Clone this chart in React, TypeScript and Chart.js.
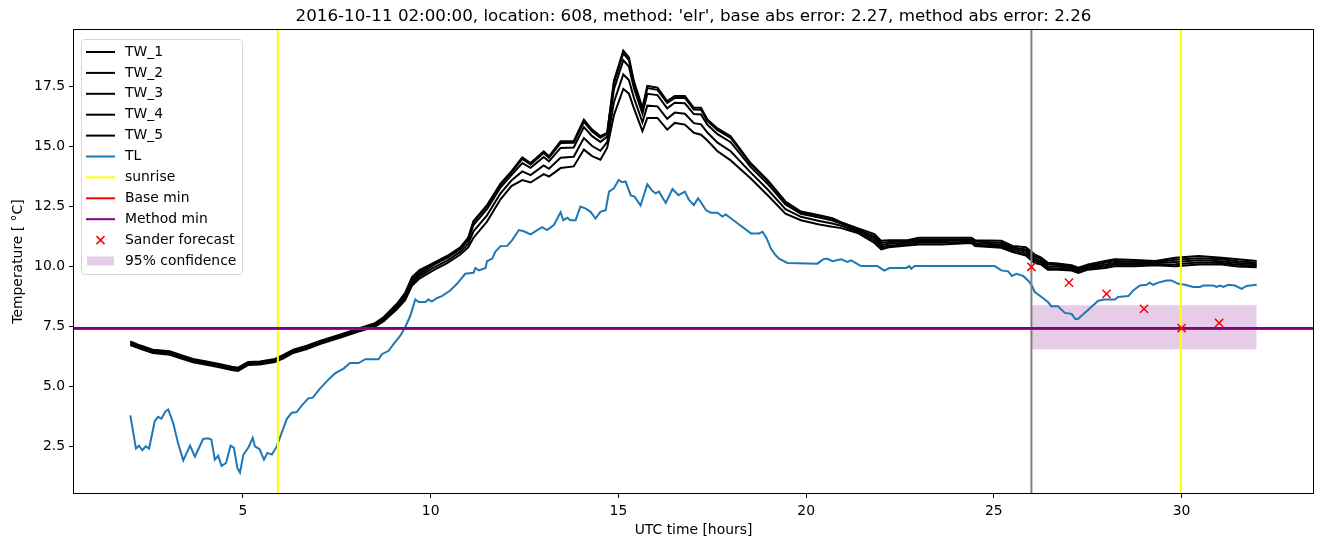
import React, { useEffect, useRef } from "react";
import { Chart, registerables } from "chart.js";

Chart.register(...registerables);

const FONT = "'DejaVu Sans', 'Liberation Sans', sans-serif";

const titleText =
  "2016-10-11 02:00:00, location: 608, method: 'elr', base abs error: 2.27, method abs error: 2.26";
const xLabel = "UTC time [hours]";
const yLabel = "Temperature [ °C]";

const xTicks = [5, 10, 15, 20, 25, 30];
const yTicks = [2.5, 5.0, 7.5, 10.0, 12.5, 15.0, 17.5];
const xRange = [0.5, 33.5];
const yRange = [0.57, 19.85];

// shared time axis for the TW series (hours)
const twTimes = [
  2.0, 2.25, 2.6, 3.05, 3.4, 3.67, 4.03, 4.4, 4.7, 4.87,
  5.14, 5.45, 5.85, 6.08, 6.34, 6.7, 7.05, 7.6, 8.1, 8.5,
  8.75, 9.1, 9.32, 9.5, 9.7, 10.08, 10.45, 10.79, 11.0, 11.14,
  11.5, 11.86, 12.15, 12.44, 12.66, 13.01, 13.15, 13.46, 13.81, 14.08,
  14.3, 14.52, 14.7, 14.88, 15.13, 15.28, 15.41, 15.64, 15.77, 16.04,
  16.3, 16.5, 16.77, 17.01, 17.2, 17.37, 17.64, 17.99, 18.52, 18.97,
  19.45, 19.86, 20.35, 20.7, 20.93, 21.37, 21.82, 22.0, 22.2, 22.7,
  23.0, 23.6, 24.4, 24.5, 25.2, 25.5, 25.85, 26.08, 26.26, 26.44,
  26.7, 27.07, 27.25, 27.51, 27.96, 28.22, 28.76, 29.3, 29.83, 30.45, 31.07, 31.5, 32.0,
];

const tw1 = [
  6.88, 6.72, 6.54, 6.47, 6.29, 6.15, 6.05, 5.93, 5.83, 5.79,
  6.03, 6.05, 6.15, 6.32, 6.54, 6.70, 6.90, 7.17, 7.43, 7.63,
  7.90, 8.45, 8.90, 9.55, 9.85, 10.15, 10.45, 10.80, 11.20, 11.90,
  12.56, 13.45, 13.96, 14.55, 14.31, 14.80, 14.59, 15.22, 15.22, 16.12,
  15.70, 15.43, 15.57, 17.73, 18.99, 18.71, 17.73, 16.61, 17.52, 17.45,
  16.89, 17.10, 17.10, 16.61, 16.61, 16.12, 15.75, 15.43, 14.31, 13.61,
  12.71, 12.29, 12.14, 12.01, 11.85, 11.60, 11.35, 11.07, 11.10, 11.10,
  11.20, 11.20, 11.20, 11.10, 11.07, 10.86, 10.80, 10.51, 10.37, 10.16,
  10.13, 10.05, 9.95, 10.09, 10.23, 10.30, 10.27, 10.23, 10.37, 10.44, 10.37, 10.30, 10.23,
];
const tw2 = [
  6.84, 6.69, 6.51, 6.44, 6.26, 6.12, 6.02, 5.90, 5.80, 5.76,
  6.00, 6.02, 6.12, 6.29, 6.51, 6.67, 6.87, 7.14, 7.40, 7.59,
  7.85, 8.39, 8.82, 9.46, 9.76, 10.13, 10.43, 10.78, 11.17, 11.85,
  12.51, 13.40, 13.92, 14.48, 14.25, 14.73, 14.53, 15.14, 15.15, 16.03,
  15.62, 15.36, 15.53, 17.63, 18.88, 18.60, 17.65, 16.54, 17.43, 17.36,
  16.81, 17.02, 17.02, 16.54, 16.53, 16.06, 15.68, 15.36, 14.27, 13.57,
  12.67, 12.26, 12.11, 11.99, 11.83, 11.55, 11.26, 10.98, 11.02, 11.04,
  11.13, 11.13, 11.14, 11.04, 10.99, 10.79, 10.71, 10.42, 10.30, 10.09,
  10.06, 9.99, 9.89, 10.03, 10.16, 10.23, 10.20, 10.18, 10.28, 10.35, 10.30, 10.22, 10.16,
];
const tw3 = [
  6.80, 6.65, 6.47, 6.40, 6.22, 6.08, 5.98, 5.86, 5.76, 5.72,
  5.96, 5.98, 6.08, 6.25, 6.47, 6.63, 6.83, 7.10, 7.36, 7.55,
  7.81, 8.33, 8.75, 9.37, 9.67, 10.07, 10.37, 10.72, 11.10, 11.73,
  12.39, 13.29, 13.81, 14.31, 14.11, 14.56, 14.38, 14.94, 14.96, 15.81,
  15.43, 15.19, 15.41, 17.37, 18.59, 18.33, 17.45, 16.37, 17.19, 17.14,
  16.59, 16.82, 16.80, 16.35, 16.33, 15.90, 15.51, 15.18, 14.15, 13.45,
  12.58, 12.20, 12.04, 11.92, 11.79, 11.50, 11.17, 10.89, 10.95, 10.99,
  11.06, 11.06, 11.09, 10.97, 10.92, 10.73, 10.63, 10.33, 10.22, 10.01,
  10.00, 9.94, 9.84, 9.98, 10.08, 10.15, 10.14, 10.14, 10.19, 10.26, 10.22, 10.15, 10.10,
];
const tw4 = [
  6.77, 6.62, 6.44, 6.37, 6.19, 6.05, 5.95, 5.83, 5.73, 5.69,
  5.93, 5.95, 6.05, 6.22, 6.44, 6.60, 6.80, 7.07, 7.33, 7.52,
  7.76, 8.28, 8.68, 9.29, 9.59, 9.96, 10.26, 10.61, 10.95, 11.47,
  12.13, 13.05, 13.58, 13.96, 13.81, 14.21, 14.07, 14.53, 14.57, 15.35,
  15.02, 14.82, 15.18, 16.84, 18.00, 17.77, 17.04, 16.01, 16.70, 16.67,
  16.15, 16.41, 16.36, 15.97, 15.92, 15.58, 15.16, 14.80, 13.92, 13.22,
  12.39, 12.07, 11.90, 11.79, 11.70, 11.45, 11.07, 10.80, 10.87, 10.93,
  10.99, 10.99, 11.03, 10.91, 10.85, 10.66, 10.54, 10.24, 10.15, 9.94,
  9.93, 9.88, 9.78, 9.92, 10.01, 10.08, 10.07, 10.09, 10.10, 10.17, 10.15, 10.07, 10.03,
];
const tw5 = [
  6.73, 6.58, 6.40, 6.33, 6.15, 6.01, 5.91, 5.79, 5.69, 5.65,
  5.90, 5.92, 6.02, 6.18, 6.40, 6.56, 6.77, 7.04, 7.30, 7.48,
  7.72, 8.22, 8.60, 9.20, 9.50, 9.85, 10.15, 10.50, 10.80, 11.20,
  11.87, 12.80, 13.35, 13.60, 13.50, 13.85, 13.75, 14.10, 14.17, 14.87,
  14.60, 14.45, 14.94, 16.30, 17.40, 17.20, 16.61, 15.64, 16.19, 16.19,
  15.70, 15.98, 15.91, 15.57, 15.49, 15.25, 14.80, 14.42, 13.68, 12.98,
  12.20, 11.93, 11.75, 11.66, 11.60, 11.40, 10.98, 10.71, 10.80, 10.88,
  10.92, 10.92, 10.98, 10.85, 10.78, 10.60, 10.46, 10.15, 10.08, 9.87,
  9.87, 9.83, 9.73, 9.87, 9.94, 10.01, 10.01, 10.05, 10.01, 10.08, 10.08, 10.00, 9.97,
];

const tlTimes = [
  2.0, 2.15, 2.23, 2.32, 2.41, 2.5, 2.65, 2.74, 2.83, 2.94,
  3.01, 3.14, 3.27, 3.41, 3.59, 3.72, 3.94, 4.07, 4.16, 4.25,
  4.34, 4.43, 4.55, 4.67, 4.76, 4.85, 4.92, 5.01, 5.14, 5.26,
  5.32, 5.44, 5.56, 5.65, 5.77, 5.9, 6.03, 6.17, 6.3, 6.43,
  6.57, 6.74, 6.86, 7.05, 7.25, 7.45, 7.68, 7.85, 8.08, 8.26,
  8.61, 8.7, 8.88, 9.01, 9.19, 9.32, 9.46, 9.59, 9.68, 9.86,
  9.94, 10.03, 10.17, 10.3, 10.52, 10.7, 10.92, 11.14, 11.19, 11.28,
  11.46, 11.5, 11.64, 11.72, 11.86, 12.04, 12.17, 12.35, 12.48, 12.66,
  12.84, 12.97, 13.1, 13.28, 13.46, 13.53, 13.64, 13.72, 13.86, 13.99,
  14.12, 14.26, 14.39, 14.52, 14.66, 14.75, 14.88, 15.01, 15.1, 15.19,
  15.33, 15.43, 15.59, 15.77, 15.9, 15.99, 16.08, 16.26, 16.44, 16.6,
  16.77, 16.88, 17.01, 17.12, 17.19, 17.33, 17.46, 17.64, 17.77, 17.86,
  18.17, 18.53, 18.75, 18.84, 18.95, 19.06, 19.19, 19.28, 19.5, 20.3,
  20.45, 20.55, 20.7, 20.93, 21.1, 21.2, 21.46, 21.9, 22.08, 22.22,
  22.66, 22.75, 22.8, 22.89, 25.02, 25.2, 25.38, 25.48, 25.6, 25.78,
  25.91, 26.0, 26.09, 26.27, 26.44, 26.53, 26.71, 26.89, 27.07, 27.17,
  27.24, 27.78, 27.95, 28.22, 28.31, 28.58, 28.71, 28.89, 29.07, 29.15,
  29.24, 29.38, 29.6, 29.73, 29.91, 30.09, 30.31, 30.49, 30.58, 30.85,
  30.93, 31.02, 31.11, 31.25, 31.42, 31.6, 31.73, 32.0,
];
const tlValues = [
  3.8, 2.42, 2.54, 2.35, 2.51, 2.42, 3.56, 3.74, 3.67, 3.98,
  4.05, 3.49, 2.65, 1.93, 2.54, 2.09, 2.82, 2.85, 2.79, 1.96,
  2.12, 1.7, 1.82, 2.54, 2.45, 1.61, 1.42, 2.16, 2.45, 2.86,
  2.51, 2.4, 1.96, 2.24, 2.17, 2.51, 3.07, 3.66, 3.91, 3.94,
  4.22, 4.51, 4.54, 4.92, 5.25, 5.55, 5.75, 5.98, 5.98, 6.14,
  6.14, 6.35, 6.49, 6.77, 7.12, 7.47, 7.96, 8.63, 8.52, 8.52,
  8.63, 8.54, 8.69, 8.77, 9.0, 9.28, 9.7, 9.74, 9.94, 9.84,
  9.94, 10.22, 10.33, 10.61, 10.85, 10.86, 11.1, 11.52, 11.47, 11.34,
  11.52, 11.64, 11.52, 11.73, 12.26, 11.93, 12.03, 11.93, 11.93, 12.5,
  12.42, 12.28, 12.0, 12.28, 12.35, 13.12, 13.26, 13.61, 13.51, 13.54,
  12.96, 12.91, 12.54, 13.43, 13.15, 13.05, 13.12, 12.65, 13.23, 12.97,
  13.12, 12.77, 12.56, 12.84, 12.7, 12.35, 12.24, 12.24, 12.08, 12.17,
  11.8, 11.38, 11.38, 11.45, 11.17, 10.75, 10.47, 10.33, 10.15, 10.12,
  10.3, 10.33, 10.22, 10.3, 10.19, 10.26, 10.02, 10.02, 9.83, 9.94,
  9.94, 10.02, 9.91, 10.02, 10.02, 9.84, 9.8, 9.61, 9.7, 9.61,
  9.42, 9.24, 8.94, 8.73, 8.52, 8.35, 8.35, 8.07, 8.03, 7.82,
  7.82, 8.58, 8.63, 8.63, 8.73, 8.77, 9.0, 9.21, 9.24, 9.33,
  9.24, 9.33, 9.42, 9.42, 9.28, 9.24, 9.15, 9.15, 9.21, 9.21,
  9.15, 9.21, 9.15, 9.24, 9.21, 9.07, 9.19, 9.24,
];

const sunriseTimes = [5.93, 29.98];
const forecastStart = 26.0;
const baseMin = 7.4;
const methodMin = 7.442;
const sanderTimes = [26, 27, 28, 29, 30, 31];
const sanderValues = [9.99, 9.33, 8.86, 8.24, 7.44, 7.65];
const confTimes = [26, 32];
const confLow = 6.56;
const confHigh = 8.39;

const TL_COLOR = "#1f77b4";
const CONF_COLOR = "rgba(128,0,128,0.2)";

const pts = (xs: number[], ys: number[]) => xs.map((x, i) => ({ x, y: ys[i] }));

const legendItems = [
  { label: "TW_1", kind: "line", color: "#000000" },
  { label: "TW_2", kind: "line", color: "#000000" },
  { label: "TW_3", kind: "line", color: "#000000" },
  { label: "TW_4", kind: "line", color: "#000000" },
  { label: "TW_5", kind: "line", color: "#000000" },
  { label: "TL", kind: "line", color: TL_COLOR },
  { label: "sunrise", kind: "line", color: "#ffff00" },
  { label: "Base min", kind: "line", color: "#ff0000" },
  { label: "Method min", kind: "line", color: "#800080" },
  { label: "Sander forecast", kind: "cross", color: "#ff0000" },
  { label: "95% confidence", kind: "patch", color: CONF_COLOR },
];

const decorPlugin = {
  id: "decor",
  afterDatasetsDraw(chart: any) {
    const { ctx, chartArea } = chart;
    const { left, right, top, bottom } = chartArea;
    ctx.save();
    ctx.strokeStyle = "#000";
    ctx.lineWidth = 1;
    ctx.strokeRect(Math.round(left) - 0.5, Math.round(top) - 0.5, Math.round(right - left) + 1, Math.round(bottom - top) + 1);
    ctx.restore();
  },
  afterDraw(chart: any) {
    const { ctx, chartArea } = chart;
    const { left, right, top, bottom } = chartArea;
    const cx = (left + right) / 2;
    ctx.save();
    ctx.fillStyle = "#000";
    ctx.textAlign = "center";
    ctx.textBaseline = "middle";
    ctx.font = `16.7px ${FONT}`;
    ctx.fillText(titleText, cx, 17);
    ctx.font = `13.9px ${FONT}`;
    ctx.fillText(xLabel, cx, 530);
    ctx.save();
    ctx.translate(18, (top + bottom) / 2);
    ctx.rotate(-Math.PI / 2);
    ctx.fillText(yLabel, 0, 0);
    ctx.restore();

    // legend
    const bx = 81.5, by = 39.5, bw = 161, bh = 235;
    ctx.beginPath();
    const r = 3;
    ctx.moveTo(bx + r, by);
    ctx.lineTo(bx + bw - r, by);
    ctx.quadraticCurveTo(bx + bw, by, bx + bw, by + r);
    ctx.lineTo(bx + bw, by + bh - r);
    ctx.quadraticCurveTo(bx + bw, by + bh, bx + bw - r, by + bh);
    ctx.lineTo(bx + r, by + bh);
    ctx.quadraticCurveTo(bx, by + bh, bx, by + bh - r);
    ctx.lineTo(bx, by + r);
    ctx.quadraticCurveTo(bx, by, bx + r, by);
    ctx.closePath();
    ctx.fillStyle = "rgba(255,255,255,0.8)";
    ctx.fill();
    ctx.strokeStyle = "rgba(204,204,204,0.8)";
    ctx.lineWidth = 1;
    ctx.stroke();

    ctx.textAlign = "left";
    ctx.textBaseline = "middle";
    ctx.font = `13.9px ${FONT}`;
    legendItems.forEach((it, i) => {
      const y = 52 + i * 20.9;
      if (it.kind === "line") {
        ctx.strokeStyle = it.color;
        ctx.lineWidth = 2;
        ctx.beginPath();
        ctx.moveTo(86, y);
        ctx.lineTo(115, y);
        ctx.stroke();
      } else if (it.kind === "cross") {
        ctx.strokeStyle = it.color;
        ctx.lineWidth = 1.5;
        const s = 4, mx = 100.5;
        ctx.beginPath();
        ctx.moveTo(mx - s, y - s);
        ctx.lineTo(mx + s, y + s);
        ctx.moveTo(mx - s, y + s);
        ctx.lineTo(mx + s, y - s);
        ctx.stroke();
      } else {
        ctx.fillStyle = it.color;
        ctx.fillRect(87, y - 4.5, 27, 9);
      }
      ctx.fillStyle = "#000";
      ctx.fillText(it.label, 125, y);
    });
    ctx.restore();
  },
};

export default function App() {
  const canvasRef = useRef<HTMLCanvasElement | null>(null);

  useEffect(() => {
    document.body.style.margin = "0";
    const canvas = canvasRef.current;
    if (!canvas) return;

    const lineDs = (label: string, data: any[], color: string, order: number, width = 2) => ({
      label,
      data,
      borderColor: color,
      backgroundColor: color,
      borderWidth: width,
      pointRadius: 0,
      tension: 0,
      fill: false,
      order,
    });

    const datasets: any[] = [
      {
        label: "Sander forecast",
        data: pts(sanderTimes, sanderValues),
        showLine: false,
        pointStyle: "crossRot",
        pointRadius: 5.8,
        pointBorderWidth: 1.5,
        borderColor: "#ff0000",
        backgroundColor: "#ff0000",
        pointBorderColor: "#ff0000",
        order: 0,
      },
      lineDs("Method min", [{ x: xRange[0], y: methodMin }, { x: xRange[1], y: methodMin }], "#800080", 1),
      lineDs("Base min", [{ x: xRange[0], y: baseMin }, { x: xRange[1], y: baseMin }], "#ff0000", 2),
      lineDs("forecast start", [{ x: forecastStart, y: yRange[0] }, { x: forecastStart, y: yRange[1] }], "#808080", 3),
      lineDs("sunrise", [{ x: sunriseTimes[0], y: yRange[0] }, { x: sunriseTimes[0], y: yRange[1] }], "#ffff00", 4),
      lineDs("sunrise 2", [{ x: sunriseTimes[1], y: yRange[0] }, { x: sunriseTimes[1], y: yRange[1] }], "#ffff00", 5),
      lineDs("TL", pts(tlTimes, tlValues), TL_COLOR, 6),
      lineDs("TW_5", pts(twTimes, tw5), "#000000", 7),
      lineDs("TW_4", pts(twTimes, tw4), "#000000", 8),
      lineDs("TW_3", pts(twTimes, tw3), "#000000", 9),
      lineDs("TW_2", pts(twTimes, tw2), "#000000", 10),
      lineDs("TW_1", pts(twTimes, tw1), "#000000", 11),
      {
        label: "conf low",
        data: confTimes.map((x) => ({ x, y: confLow })),
        borderWidth: 0,
        borderColor: "rgba(0,0,0,0)",
        pointRadius: 0,
        fill: false,
        order: 12,
      },
      {
        label: "95% confidence",
        data: confTimes.map((x) => ({ x, y: confHigh })),
        borderWidth: 0,
        borderColor: "rgba(0,0,0,0)",
        backgroundColor: CONF_COLOR,
        pointRadius: 0,
        fill: "-1",
        order: 13,
      },
    ];

    const tickFont = { family: FONT, size: 13.9 };

    const chart = new Chart(canvas, {
      type: "line",
      data: { datasets },
      plugins: [decorPlugin],
      options: {
        responsive: false,
        animation: false,
        devicePixelRatio: 1,
        layout: { padding: { left: 0, right: 11, top: 30, bottom: 0 } },
        plugins: {
          legend: { display: false },
          tooltip: { enabled: false },
          title: { display: false },
          filler: { drawTime: "beforeDatasetsDraw" },
        },
        scales: {
          x: {
            type: "linear",
            min: xRange[0],
            max: xRange[1],
            afterBuildTicks: (s: any) => {
              s.ticks = xTicks.map((v) => ({ value: v }));
            },
            afterFit: (s: any) => {
              s.height = 54;
            },
            grid: { drawOnChartArea: false, drawTicks: true, tickLength: 5, color: "#000", lineWidth: 1 },
            border: { display: false },
            ticks: {
              font: tickFont,
              color: "#000",
              padding: 5,
              maxRotation: 0,
              autoSkip: false,
              callback: (v: any) => String(v),
            },
          },
          y: {
            type: "linear",
            min: yRange[0],
            max: yRange[1],
            afterBuildTicks: (s: any) => {
              s.ticks = yTicks.map((v) => ({ value: v }));
            },
            afterFit: (s: any) => {
              s.width = 74;
            },
            grid: { drawOnChartArea: false, drawTicks: true, tickLength: 5, color: "#000", lineWidth: 1 },
            border: { display: false },
            ticks: {
              font: tickFont,
              color: "#000",
              padding: 4,
              autoSkip: false,
              callback: (v: any) => Number(v).toFixed(1),
            },
          },
        },
      },
    } as any);

    return () => {
      chart.destroy();
    };
  }, []);

  return (
    <div style={{ position: "absolute", left: 0, top: 0, width: 1324, height: 547, background: "#fff" }}>
      <canvas ref={canvasRef} width={1324} height={547} style={{ width: 1324, height: 547, display: "block" }} />
    </div>
  );
}
